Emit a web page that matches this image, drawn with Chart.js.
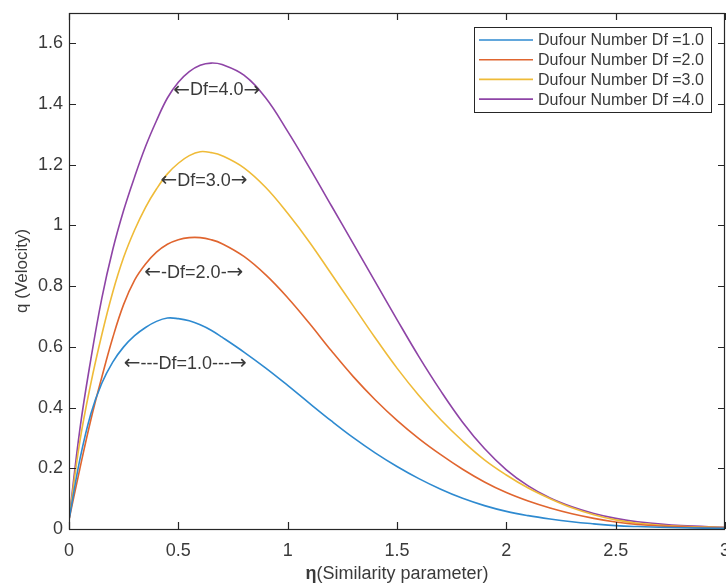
<!DOCTYPE html>
<html>
<head>
<meta charset="utf-8">
<script src="https://cdn.jsdelivr.net/npm/chart.js@4/dist/chart.umd.min.js"></script>
<style>
  html, body { margin: 0; padding: 0; background: #fff; overflow: hidden; }
  #wrap { width: 726px; height: 583px; position: relative; }
  #velocity { display: block; }
</style>
</head>
<body>
<div id="wrap"><canvas id="velocity"></canvas></div>
<script>
// similarity parameter samples
var eta = [0, 0.05, 0.1, 0.15, 0.2, 0.25, 0.3, 0.35, 0.4, 0.45, 0.5, 0.55, 0.6, 0.65, 0.7,
           0.8, 0.9, 1.0, 1.1, 1.2, 1.3, 1.4, 1.5, 1.6, 1.7, 1.8, 1.9, 2.0,
           2.1, 2.2, 2.3, 2.4, 2.5, 2.6, 2.8, 3.0];

// velocity profiles q(eta) for each Dufour number
var qDf1 = [0.03, 0.23, 0.38, 0.48, 0.55, 0.6, 0.637, 0.664, 0.684, 0.695, 0.693, 0.686, 0.673, 0.655, 0.632,
            0.583, 0.53, 0.473, 0.414, 0.356, 0.301, 0.251, 0.206, 0.166, 0.131, 0.101, 0.077, 0.058,
            0.044, 0.033, 0.024, 0.017, 0.011, 0.008, 0.004, 0.002];
var qDf2 = [0.03, 0.2, 0.36, 0.5, 0.63, 0.74, 0.82, 0.873, 0.912, 0.938, 0.953, 0.96, 0.96, 0.953, 0.94,
            0.898, 0.837, 0.762, 0.677, 0.587, 0.502, 0.426, 0.358, 0.298, 0.245, 0.197, 0.155, 0.12,
            0.092, 0.069, 0.05, 0.035, 0.023, 0.015, 0.007, 0.004];
var qDf3 = [0.03, 0.29, 0.48, 0.64, 0.78, 0.895, 0.985, 1.06, 1.12, 1.17, 1.205, 1.23, 1.243, 1.24, 1.23,
            1.19, 1.125, 1.04, 0.945, 0.84, 0.735, 0.63, 0.53, 0.44, 0.36, 0.29, 0.228, 0.178,
            0.135, 0.1, 0.07, 0.047, 0.03, 0.019, 0.009, 0.005];
var qDf4 = [0.03, 0.33, 0.56, 0.76, 0.92, 1.05, 1.16, 1.26, 1.345, 1.42, 1.472, 1.507, 1.528, 1.535, 1.53,
            1.495, 1.42, 1.31, 1.19, 1.065, 0.94, 0.815, 0.69, 0.568, 0.455, 0.352, 0.265, 0.195,
            0.142, 0.102, 0.073, 0.051, 0.035, 0.024, 0.011, 0.006];

var seriesNames = ['Dufour Number Df =1.0', 'Dufour Number Df =2.0', 'Dufour Number Df =3.0', 'Dufour Number Df =4.0'];
var seriesColors = ['#2e8ad0', '#e0652f', '#efbb38', '#8e44a6'];

var xTicks = [0, 0.5, 1, 1.5, 2, 2.5, 3];
var xTickLabels = ['0', '0.5', '1', '1.5', '2', '2.5', '3'];
var yTicks = [0, 0.2, 0.4, 0.6, 0.8, 1, 1.2, 1.4, 1.6];
var yTickLabels = ['0', '0.2', '0.4', '0.6', '0.8', '1', '1.2', '1.4', '1.6'];

// in-plot curve labels, anchored in data units
var noteText = ['\u2190Df=4.0\u2192', '\u2190Df=3.0\u2192', '\u2190-Df=2.0-\u2192', '\u2190---Df=1.0---\u2192'];
var noteEta = [0.676, 0.617, 0.571, 0.532];
var noteQ = [1.445, 1.146, 0.843, 0.543];

var FONT = '"Liberation Sans", Arial, sans-serif';
var ARROW_FONT = '"DejaVu Sans", sans-serif';
var INK = '#262626';
var TEXT = '#3a3a3a';

function pts(ys) {
    return eta.map(function (x, i) { return { x: x, y: ys[i] }; });
}

var allSeries = [qDf1, qDf2, qDf3, qDf4];

// draws a label whose arrow glyphs come from a font with long arrows
function drawNote(ctx, text, cx, cy) {
    var parts = text.split(/([\u2190\u2192])/).filter(function (p) { return p.length; });
    var fonts = parts.map(function (p) {
        return (p === '\u2190' || p === '\u2192') ? '20px ' + ARROW_FONT : '18px ' + FONT;
    });
    var widths = parts.map(function (p, i) { ctx.font = fonts[i]; return ctx.measureText(p).width; });
    var total = widths.reduce(function (s, w) { return s + w; }, 0);
    var x = cx - total / 2;
    ctx.textAlign = 'left';
    parts.forEach(function (p, i) {
        ctx.font = fonts[i];
        ctx.fillText(p, x, cy);
        x += widths[i];
    });
}

// box, inward ticks, labels, legend and x title drawn on top of the plot
var boxPlugin = {
    id: 'boxPlugin',
    afterDraw: function (chart) {
        var ctx = chart.ctx;
        var a = chart.chartArea;
        var xs = chart.scales.x, ys = chart.scales.y;
        ctx.save();

        // curve labels
        ctx.fillStyle = TEXT;
        ctx.textBaseline = 'middle';
        noteText.forEach(function (t, i) {
            drawNote(ctx, t, xs.getPixelForValue(noteEta[i]), ys.getPixelForValue(noteQ[i]));
        });

        // axes box
        ctx.strokeStyle = INK;
        ctx.lineWidth = 1.2;
        ctx.strokeRect(a.left + 0.5, a.top + 0.5, a.right - a.left - 1, a.bottom - a.top);

        var tl = 7;
        ctx.beginPath();
        xTicks.forEach(function (v) {
            var px = Math.round(xs.getPixelForValue(v)) + 0.5;
            ctx.moveTo(px, a.bottom); ctx.lineTo(px, a.bottom - tl);
            ctx.moveTo(px, a.top); ctx.lineTo(px, a.top + tl);
        });
        yTicks.forEach(function (v) {
            var py = Math.round(ys.getPixelForValue(v)) + 0.5;
            ctx.moveTo(a.left, py); ctx.lineTo(a.left + tl, py);
            ctx.moveTo(a.right, py); ctx.lineTo(a.right - tl, py);
        });
        ctx.stroke();

        // legend
        var lx = 474, ly = 27, lw = 237, lh = 85;
        ctx.fillStyle = '#fff';
        ctx.fillRect(lx, ly, lw, lh);
        ctx.strokeStyle = INK;
        ctx.lineWidth = 1;
        ctx.strokeRect(lx + 0.5, ly + 0.5, lw, lh);
        ctx.font = '16px ' + FONT;
        ctx.textAlign = 'left';
        seriesNames.forEach(function (name, i) {
            var ry = ly + 13 + i * 19.7;
            ctx.strokeStyle = seriesColors[i];
            ctx.lineWidth = 1.6;
            ctx.beginPath();
            ctx.moveTo(lx + 5, ry); ctx.lineTo(lx + 59, ry);
            ctx.stroke();
            ctx.fillStyle = TEXT;
            ctx.fillText(name, lx + 64, ry + 1);
        });

        // x axis title with bold eta
        var cx = (a.left + a.right) / 2, ty = 574;
        ctx.textBaseline = 'middle';
        ctx.font = 'bold 18px ' + FONT;
        var w1 = ctx.measureText('\u03b7').width;
        ctx.font = '18px ' + FONT;
        var w2 = ctx.measureText('(Similarity parameter)').width;
        var sx = cx - (w1 + w2) / 2;
        ctx.fillStyle = TEXT;
        ctx.font = 'bold 18px ' + FONT;
        ctx.fillText('\u03b7', sx, ty);
        ctx.font = '18px ' + FONT;
        ctx.fillText('(Similarity parameter)', sx + w1, ty);

        ctx.restore();
    }
};

new Chart(document.getElementById('velocity'), {
    type: 'line',
    data: {
        datasets: allSeries.map(function (s, i) {
            return {
                label: seriesNames[i],
                data: pts(s),
                borderColor: seriesColors[i],
                backgroundColor: seriesColors[i],
                borderWidth: 1.6,
                pointRadius: 0,
                fill: false,
                tension: 0.4
            };
        })
    },
    options: {
        responsive: true,
        maintainAspectRatio: false,
        animation: false,
        layout: { padding: { top: 13, right: 1, left: 0, bottom: 0 } },
        scales: {
            x: {
                type: 'linear',
                min: 0,
                max: 3,
                afterBuildTicks: function (s) { s.ticks = xTicks.map(function (v) { return { value: v }; }); },
                // the last label may run off the right edge, so no extra room is kept for it
                afterFit: function (s) { s.height = 54; s.paddingRight = 0; },
                // tick gap comes from tickLength so the label padding does not shrink the plot
                grid: { display: false, drawTicks: true, tickLength: 11 },
                border: { display: false },
                ticks: {
                    padding: 0,
                    maxRotation: 0,
                    autoSkip: false,
                    color: TEXT,
                    font: { family: FONT, size: 18 },
                    callback: function (v) { return xTickLabels[xTicks.indexOf(v)]; }
                }
            },
            y: {
                type: 'linear',
                min: 0,
                max: 1.7,
                afterBuildTicks: function (s) { s.ticks = yTicks.map(function (v) { return { value: v }; }); },
                afterFit: function (s) { s.width = 69; },
                grid: { display: false, drawTicks: true, tickLength: 6 },
                border: { display: false },
                ticks: {
                    padding: 0,
                    autoSkip: false,
                    color: TEXT,
                    font: { family: FONT, size: 18 },
                    callback: function (v) { return yTickLabels[yTicks.indexOf(v)]; }
                },
                title: {
                    display: true,
                    text: 'q (Velocity)',
                    color: TEXT,
                    font: { family: FONT, size: 17 },
                    padding: { top: 12, bottom: 0 }
                }
            }
        },
        plugins: {
            legend: { display: false },
            tooltip: { enabled: false }
        }
    },
    plugins: [boxPlugin]
});
</script>
</body>
</html>
